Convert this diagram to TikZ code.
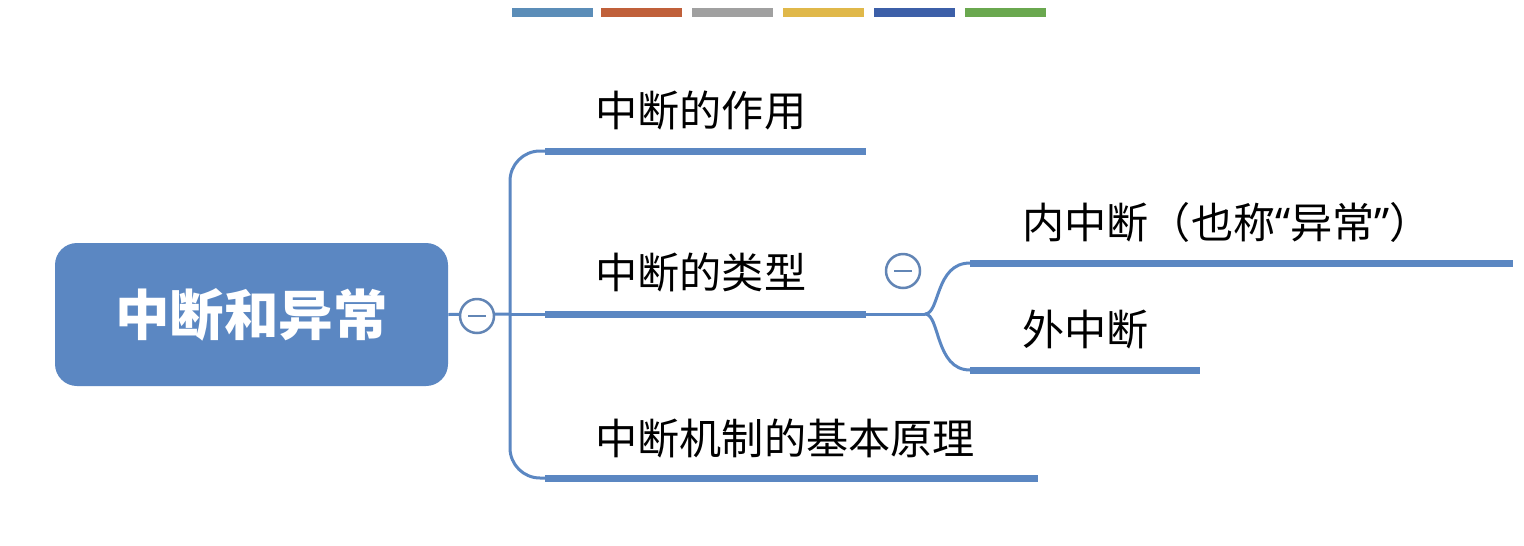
\documentclass[tikz,border=0pt]{standalone}
\usepackage{fontspec}
\newfontfamily\cjk{Noto Sans CJK SC}
\newfontfamily\latq{Noto Sans}
\definecolor{mblue}{HTML}{5B87C2}
\definecolor{b1}{HTML}{5B8DB8}\definecolor{b2}{HTML}{C0603A}\definecolor{b3}{HTML}{A0A0A0}
\definecolor{b4}{HTML}{E0B84A}\definecolor{b5}{HTML}{3C5FA8}\definecolor{b6}{HTML}{6AA84F}
\begin{document}
\begin{tikzpicture}[x=0.02cm,y=-0.02cm,
  conn/.style={draw=mblue,line width=3*0.02cm},
  uline/.style={draw=mblue,line width=7*0.02cm},
  lab/.style={anchor=west,font=\cjk\fontsize{24}{28}\selectfont,inner sep=0},
  tog/.style={circle,draw=mblue!80!gray,line width=2.5*0.02cm,fill=white,minimum size=34*0.02cm,inner sep=0}]
\useasboundingbox (0,0) rectangle (1524,545);
\fill[fill=white] (0,0) rectangle (1524,545);
% colour bars
\foreach \x/\c in {512/b1,601/b2,692/b3,783/b4,874/b5,965/b6}
  \fill[\c] (\x,8) rectangle ++(81,9);
% root
\node[fill=mblue,rounded corners=22*0.02cm,minimum width=393*0.02cm,minimum height=143*0.02cm,
  text=white,font=\cjk\bfseries\fontsize{31}{36}\selectfont] (root) at (251.5,314.5) {中断和异常};
% underlines
\coordinate (u1a) at (545,151); \coordinate (u1b) at (866,151);
\coordinate (u2a) at (545,314); \coordinate (u2b) at (866,314);
\coordinate (u3a) at (545,478); \coordinate (u3b) at (1038,478);
\coordinate (u4a) at (970,263); \coordinate (u4b) at (1513,263);
\coordinate (u5a) at (970,370); \coordinate (u5b) at (1200,370);
\coordinate (j) at (510,314);
\coordinate (k) at (925,314);
\draw[conn] (root.east) -- (j);
\draw[conn,rounded corners=30*0.02cm] (u1a) -- (510,151) -- (510,478) -- (u3a);
\draw[conn] (j) -- (u2a);
\draw[conn] (u2b) -- (k);
\draw[conn] (k) .. controls (940,314) and (935,263) .. (u4a);
\draw[conn] (k) .. controls (940,314) and (935,370) .. (u5a);
\foreach \a/\b in {u1a/u1b,u2a/u2b,u3a/u3b,u4a/u4b,u5a/u5b} \draw[uline] (\a) -- (\b);
\node[tog] (t1) at (477,316) {}; \draw[mblue!80!gray,line width=2.5*0.02cm] (468,316) -- (486,316);
\node[tog] (t2) at (903,271) {}; \draw[mblue!80!gray,line width=2.5*0.02cm] (894,271) -- (912,271);
% labels
\node[lab] (l1) at (595,110) {中断的作用};
\node[lab] (l2) at (595,272) {中断的类型};
\node[lab] (l3) at (595,438) {中断机制的基本原理};
\node[lab] (l4) at (1022,222) {内中断（也称{\latq “}异常{\latq ”}）};
\node[lab] (l5) at (1022,330) {外中断};
\end{tikzpicture}
\end{document}
